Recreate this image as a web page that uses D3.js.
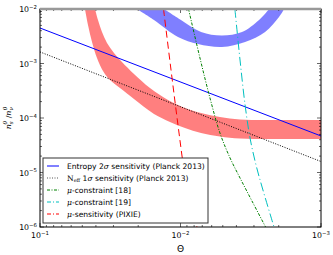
<!DOCTYPE html>
<html>
<head>
<meta charset="utf-8">
<script src="https://cdn.jsdelivr.net/npm/d3@7"></script>
<style>body{margin:0;background:#fff}</style>
</head>
<body>
<script>
const W = 333, H = 255;
const margin = {top: 9, right: 12, bottom: 28, left: 40};

// axis ticks
const xTicks = [1e-1, 1e-2, 1e-3];
const xTickExp = ["\u22121", "\u22122", "\u22123"];
const yTicks = [1e-2, 1e-3, 1e-4, 1e-5, 1e-6];
const yTickExp = ["\u22122", "\u22123", "\u22124", "\u22125", "\u22126"];

// straight sensitivity lines [theta, n]
const entropyLine = [[1e-1, 4.48e-3], [1e-3, 4.68e-5]];
const neffLine = [[1e-1, 1.63e-3], [1e-3, 1.59e-5]];

// red band edges
const redLower = [[0.04784, 1e-2], [0.04554, 5.09e-3], [0.04264, 2.48e-3], [0.03929, 1.262e-3],
  [0.03561, 7.29e-4], [0.03175, 4.98e-4], [0.02696, 3.55e-4], [0.02143, 2.23e-4],
  [0.01544, 1.184e-4], [0.01188, 8.45e-5], [9.29e-3, 6.56e-5], [7.14e-3, 5.31e-5],
  [5.24e-3, 4.58e-5], [3.77e-3, 4.21e-5], [2.31e-3, 4.12e-5], [1e-3, 4.12e-5]];
const redUpper = [[0.04060, 1e-2], [0.03866, 6.28e-3], [0.03620, 3.78e-3], [0.03335, 2.38e-3],
  [0.02974, 1.56e-3], [0.02609, 1.065e-3], [0.02143, 6.42e-4], [0.01649, 3.55e-4],
  [0.01227, 2.14e-4], [9.29e-3, 1.53e-4], [7.14e-3, 1.235e-4], [5.24e-3, 1.043e-4],
  [3.77e-3, 9.39e-5], [2.503e-3, 9.19e-5], [1e-3, 9.19e-5]];

// blue band edges
const blueOuter = [[0.02040, 1e-2], [0.01544, 6.28e-3], [0.01042, 3.06e-3], [7.50e-3, 2.28e-3],
  [5.07e-3, 2.01e-3], [3.47e-3, 2.48e-3], [2.50e-3, 3.78e-3], [1.99e-3, 7.13e-3], [1.83e-3, 1e-2]];
const blueInner = [[0.01310, 1e-2], [9.92e-3, 6.28e-3], [7.14e-3, 3.78e-3], [5.07e-3, 3.26e-3],
  [3.65e-3, 3.78e-3], [2.76e-3, 6.28e-3], [2.34e-3, 1e-2]];

// mu curves
const muPixie = [[0.01321, 1e-2], [0.01168, 7.60e-4], [0.01042, 7.44e-5], [9.44e-3, 1.11e-5],
  [8.56e-3, 2.53e-6], [7.63e-3, 1e-6]];
const mu18 = [[8.77e-3, 1e-2], [7.27e-3, 1.262e-3], [6.17e-3, 2.33e-4], [5.24e-3, 5.31e-5],
  [4.44e-3, 1.85e-5], [3.77e-3, 7.93e-6], [3.10e-3, 3.00e-6], [2.48e-3, 1e-6]];
const mu19 = [[4.10e-3, 1e-2], [3.77e-3, 1.16e-3], [3.47e-3, 1.73e-4], [3.20e-3, 4.30e-5],
  [2.90e-3, 1.37e-5], [2.59e-3, 4.78e-6], [2.16e-3, 1e-6]];

const svg = d3.select("body").append("svg")
  .attr("width", W).attr("height", H)
  .attr("font-family", "DejaVu Sans");

const x = d3.scaleLog().domain([1e-1, 1e-3]).range([margin.left, W - margin.right]);
const y = d3.scaleLog().domain([1e-6, 1e-2]).range([H - margin.bottom, margin.top]);

svg.append("clipPath").attr("id", "plot")
  .append("rect")
  .attr("x", margin.left).attr("y", margin.top)
  .attr("width", W - margin.left - margin.right)
  .attr("height", H - margin.top - margin.bottom);

const line = d3.line().x(d => x(d[0])).y(d => y(d[1])).curve(d3.curveCatmullRom.alpha(0.5));
const band = (a, b) => line(a) + line(b.slice().reverse()).replace("M", "L") + "Z";

const g = svg.append("g").attr("clip-path", "url(#plot)");

g.append("path").attr("d", band(redLower, redUpper))
  .attr("fill", "red").attr("fill-opacity", 0.5);
g.append("path").attr("d", band(blueOuter, blueInner))
  .attr("fill", "blue").attr("fill-opacity", 0.5);

const curves = [
  {data: entropyLine, color: "#0000ff", dash: null},
  {data: neffLine, color: "#000", dash: "1,1.5"},
  {data: muPixie, color: "#ff0000", dash: "7,4"},
  {data: mu18, color: "#008000", dash: "3,1.5,1,1.5"},
  {data: mu19, color: "#00bfbf", dash: "9,3,1,3"}
];
g.selectAll("path.curve").data(curves).join("path")
  .attr("class", "curve")
  .attr("d", d => line(d.data))
  .attr("fill", "none")
  .attr("stroke", d => d.color)
  .attr("stroke-width", 1)
  .attr("stroke-dasharray", d => d.dash);

// ticks (inward, all four sides)
const x0 = margin.left, x1 = W - margin.right, y0 = margin.top, y1 = H - margin.bottom;
const xMinor = x.ticks().filter(v => !xTicks.some(t => Math.abs(t - v) / t < 1e-6));
const yMinor = y.ticks().filter(v => !yTicks.some(t => Math.abs(t - v) / t < 1e-6));
const ticks = svg.append("g").attr("stroke", "#000").attr("stroke-width", 0.6);
[[xTicks, 4], [xMinor, 2]].forEach(([vals, len]) => {
  vals.forEach(v => {
    ticks.append("line").attr("x1", x(v)).attr("x2", x(v)).attr("y1", y1).attr("y2", y1 - len);
    ticks.append("line").attr("x1", x(v)).attr("x2", x(v)).attr("y1", y0).attr("y2", y0 + len);
  });
});
[[yTicks, 4], [yMinor, 2]].forEach(([vals, len]) => {
  vals.forEach(v => {
    ticks.append("line").attr("y1", y(v)).attr("y2", y(v)).attr("x1", x0).attr("x2", x0 + len);
    ticks.append("line").attr("y1", y(v)).attr("y2", y(v)).attr("x1", x1).attr("x2", x1 - len);
  });
});

// frame
svg.append("rect").attr("x", x0).attr("y", y0).attr("width", x1 - x0).attr("height", y1 - y0)
  .attr("fill", "none").attr("stroke", "#000").attr("stroke-width", 1);
svg.append("line").attr("x1", x0).attr("x2", x1).attr("y1", y0).attr("y2", y0)
  .attr("stroke", "#999").attr("stroke-width", 2.5);

// tick labels
const xl = svg.append("g").attr("font-size", 7.8).attr("text-anchor", "middle").attr("fill", "#000");
xTicks.forEach((v, i) => {
  const t = xl.append("text").attr("x", x(v)).attr("y", y1 + 11);
  t.append("tspan").text("10");
  t.append("tspan").attr("font-size", 5.4).attr("dy", -3.5).text(xTickExp[i]);
});
const yl = svg.append("g").attr("font-size", 7.8).attr("text-anchor", "end").attr("fill", "#000");
yTicks.forEach((v, i) => {
  const t = yl.append("text").attr("x", x0 - 3).attr("y", y(v) + 3);
  t.append("tspan").text("10");
  t.append("tspan").attr("font-size", 5.4).attr("dy", -3.5).text(yTickExp[i]);
});

// axis titles
svg.append("text").attr("x", (x0 + x1) / 2).attr("y", H - 3)
  .attr("text-anchor", "middle").attr("font-size", 9).text("\u0398");

const yt = svg.append("text")
  .attr("transform", `translate(11,${(y0 + y1) / 2}) rotate(-90)`)
  .attr("text-anchor", "middle").attr("font-family", "DejaVu Serif")
  .attr("font-style", "italic").attr("font-size", 8);
yt.append("tspan").text("n");
yt.append("tspan").attr("font-size", 5.5).attr("dy", 2).text("s");
yt.append("tspan").attr("font-size", 5.5).attr("dx", -3).attr("dy", -6).text("0");
yt.append("tspan").attr("dy", 4).attr("font-style", "normal").text(" /");
yt.append("tspan").text("n");
yt.append("tspan").attr("font-size", 5.5).attr("dy", 2).text("\u03bd");
yt.append("tspan").attr("font-size", 5.5).attr("dx", -3).attr("dy", -6).text("0");

// legend
const legendItems = [
  {color: "#8080ff", dash: null, width: 2},
  {color: "#555", dash: "1,1.5", width: 1},
  {color: "#008000", dash: "3,1.5,1,1.5", width: 1},
  {color: "#00bfbf", dash: "4,2,1,2", width: 1},
  {color: "#ff0000", dash: "4,2,1,2", width: 1}
];
const lg = svg.append("g");
lg.append("rect").attr("x", 43).attr("y", 158).attr("width", 165).attr("height", 65)
  .attr("fill", "#fff").attr("stroke", "#333").attr("stroke-width", 1);
legendItems.forEach((d, i) => {
  const cy = 166 + i * 12;
  lg.append("line").attr("x1", 47).attr("x2", 59).attr("y1", cy).attr("y2", cy)
    .attr("stroke", d.color).attr("stroke-width", d.width).attr("stroke-dasharray", d.dash);
});
const lt = lg.append("g").attr("font-size", 7.6).attr("fill", "#000");
const tx = 67;
let t;
t = lt.append("text").attr("x", tx).attr("y", 166 + 2.7);
t.append("tspan").text("Entropy 2");
t.append("tspan").attr("font-family", "DejaVu Serif").attr("font-style", "italic").text("\u03c3");
t.append("tspan").text(" sensitivity (Planck 2013)");
t = lt.append("text").attr("x", tx).attr("y", 178 + 2.7);
t.append("tspan").attr("font-family", "DejaVu Serif").text("N");
t.append("tspan").attr("font-family", "DejaVu Serif").attr("font-size", 5).attr("dy", 1.5).text("eff");
t.append("tspan").attr("dy", -1.5).text(" 1");
t.append("tspan").attr("font-family", "DejaVu Serif").attr("font-style", "italic").text("\u03c3");
t.append("tspan").text(" sensitivity (Planck 2013)");
[["-constraint [18]", 190], ["-constraint [19]", 202], ["-sensitivity (PIXIE)", 214]].forEach(([s, cy]) => {
  const tt = lt.append("text").attr("x", tx).attr("y", cy + 2.7);
  tt.append("tspan").attr("font-family", "DejaVu Serif").attr("font-style", "italic").text("\u03bc");
  tt.append("tspan").text(s);
});
</script>
</body>
</html>
